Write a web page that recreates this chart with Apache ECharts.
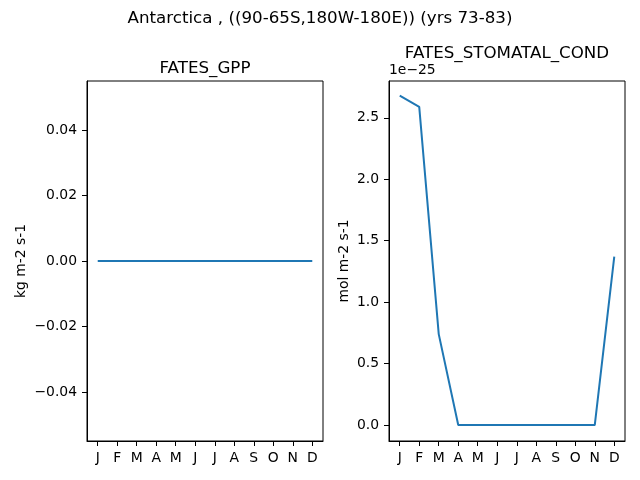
<!DOCTYPE html>
<html>
<head>
<meta charset="utf-8">
<script src="https://cdn.jsdelivr.net/npm/echarts@6/dist/echarts.min.js"></script>
<style>
  html, body { margin: 0; padding: 0; background: #fff; }
  #chart { width: 640px; height: 480px; }
</style>
</head>
<body>
<div id="chart"></div>
<script>
const months = ['J', 'F', 'M', 'A', 'M', 'J', 'J', 'A', 'S', 'O', 'N', 'D'];
// monthly means
const gpp = [0, 0, 0, 0, 0, 0, 0, 0, 0, 0, 0, 0];
const stomatalCond = [2.68e-25, 2.59e-25, 0.74e-25, 0, 0, 0, 0, 0, 0, 0, 0, 1.37e-25];
const gppTicks = [-0.04, -0.02, 0, 0.02, 0.04];
const condTicks = [0, 0.5e-25, 1e-25, 1.5e-25, 2e-25, 2.5e-25];

const font = 'DejaVu Sans';
const monthIdx = months.map((m, i) => i);
const axisLine = { show: true, onZero: false, lineStyle: { color: '#000', width: 1 } };
const tickStyle = { color: '#000', width: 1 };

const xAxisFor = (gridIndex) => ({
  type: 'value', gridIndex,
  min: -0.55, max: 11.55,
  splitLine: { show: false },
  axisLine,
  axisTick: { show: true, customValues: monthIdx, length: 5, lineStyle: tickStyle },
  axisLabel: {
    customValues: monthIdx, color: '#000', fontFamily: font, fontSize: 13.9, margin: 10,
    formatter: (v) => months[Math.round(v)]
  }
});

const fmtMinus = (s) => s.replace('-', '\u2212');
const titleStyle = { fontFamily: font, fontSize: 16.7, fontWeight: 'normal', color: '#000' };

const chart = echarts.init(document.getElementById('chart'));
chart.setOption({
  animation: false,
  backgroundColor: '#fff',
  title: [
    { text: 'Antarctica , ((90-65S,180W-180E)) (yrs 73-83)', left: 320, top: 10, padding: 0,
      textAlign: 'center', textStyle: titleStyle },
    { text: 'FATES_GPP', left: 205, top: 60, padding: 0, textAlign: 'center', textStyle: titleStyle },
    { text: 'FATES_STOMATAL_COND', left: 507, top: 45, padding: 0, textAlign: 'center', textStyle: titleStyle }
  ],
  graphic: [
    { type: 'text', left: 389, top: 63,
      style: { text: '1e\u221225', font: '13.9px "DejaVu Sans"', fill: '#000' } }
  ],
  grid: [
    { left: 87, right: 317, top: 81, bottom: 39, show: true, borderColor: '#000', borderWidth: 1, backgroundColor: 'transparent' },
    { left: 389, right: 15, top: 81, bottom: 39, show: true, borderColor: '#000', borderWidth: 1, backgroundColor: 'transparent' }
  ],
  xAxis: [xAxisFor(0), xAxisFor(1)],
  yAxis: [
    {
      type: 'value', gridIndex: 0, min: -0.055, max: 0.055,
      name: 'kg m-2 s-1', nameLocation: 'middle', nameGap: 59,
      nameTextStyle: { fontFamily: font, fontSize: 13.9, color: '#000' },
      splitLine: { show: false }, axisLine,
      axisTick: { show: true, customValues: gppTicks, length: 5, lineStyle: tickStyle },
      axisLabel: { customValues: gppTicks, color: '#000', fontFamily: font, fontSize: 13.9, margin: 10,
        formatter: (v) => fmtMinus(v.toFixed(2)) }
    },
    {
      type: 'value', gridIndex: 1, min: -0.13e-25, max: 2.80e-25,
      name: 'mol m-2 s-1', nameLocation: 'middle', nameGap: 38,
      nameTextStyle: { fontFamily: font, fontSize: 13.9, color: '#000' },
      splitLine: { show: false }, axisLine,
      axisTick: { show: true, customValues: condTicks, length: 5, lineStyle: tickStyle },
      axisLabel: { customValues: condTicks, color: '#000', fontFamily: font, fontSize: 13.9, margin: 10,
        formatter: (v) => (v / 1e-25).toFixed(1) }
    }
  ],
  series: [
    { type: 'line', xAxisIndex: 0, yAxisIndex: 0, data: gpp.map((v, i) => [i, v]),
      showSymbol: false, lineStyle: { color: '#1f77b4', width: 2 } },
    { type: 'line', xAxisIndex: 1, yAxisIndex: 1, data: stomatalCond.map((v, i) => [i, v]),
      showSymbol: false, lineStyle: { color: '#1f77b4', width: 2 } }
  ]
});
window.addEventListener('resize', () => chart.resize());
</script>
</body>
</html>
